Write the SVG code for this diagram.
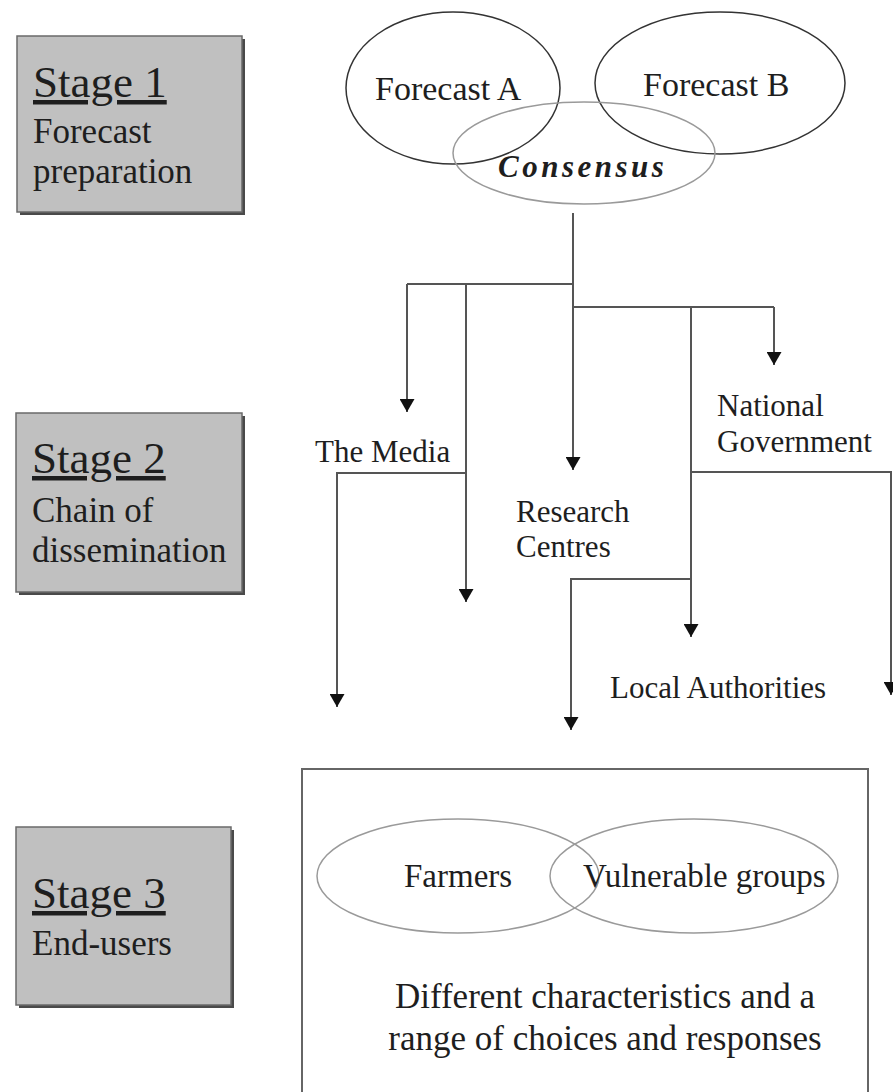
<svg xmlns="http://www.w3.org/2000/svg" width="893" height="1092" viewBox="0 0 893 1092">
<style>
  text { font-family: "Liberation Serif", "Times New Roman", serif; fill: #1e1e1e; }
  .stage { font-size: 45px; text-decoration: underline; }
  .sub { font-size: 35px; }
  .lbl { font-size: 31px; }
  .ell { font-size: 34px; }
  .shadow { fill: #4a4a4a; }
  .sbox { fill: #c0c0c0; stroke: #6a6a6a; stroke-width: 1.5; }
  .fc { fill: none; stroke: #333; stroke-width: 1.5; }
  .light { fill: none; stroke: #9a9a9a; stroke-width: 1.5; }
  .conn path { fill: none; stroke: #555; stroke-width: 2; }
  .arr path { marker-end: url(#ah); }
</style>
<defs>
  <marker id="ah" viewBox="0 0 13 15" refX="13" refY="7.5" markerWidth="13" markerHeight="15" markerUnits="userSpaceOnUse" orient="auto">
    <path d="M0,0 L13,7.5 L0,15 z" fill="#111"/>
  </marker>
</defs>
<rect width="893" height="1092" fill="#ffffff"/>

<g id="stage1">
  <rect class="shadow" x="20" y="39" width="225" height="176"/>
  <rect class="sbox" x="17" y="36" width="225" height="176"/>
  <text class="stage" x="33" y="97">Stage 1</text>
  <text class="sub" x="33" y="143">Forecast</text>
  <text class="sub" x="33" y="183">preparation</text>
</g>

<g id="stage2">
  <rect class="shadow" x="19" y="416" width="226" height="179"/>
  <rect class="sbox" x="16" y="413" width="226" height="179"/>
  <text class="stage" x="32" y="473">Stage 2</text>
  <text class="sub" x="32" y="522">Chain of</text>
  <text class="sub" x="32" y="562">dissemination</text>
</g>

<g id="stage3">
  <rect class="shadow" x="19" y="830" width="215" height="178"/>
  <rect class="sbox" x="16" y="827" width="215" height="178"/>
  <text class="stage" x="32" y="908">Stage 3</text>
  <text class="sub" x="32" y="955">End-users</text>
</g>

<g id="forecastA">
  <ellipse class="fc" cx="453" cy="88" rx="107" ry="76"/>
  <text class="ell" x="375" y="100">Forecast A</text>
</g>
<g id="forecastB">
  <ellipse class="fc" cx="720" cy="83" rx="125" ry="71"/>
  <text class="ell" x="643" y="96">Forecast B</text>
</g>
<g id="consensus">
  <ellipse class="light" cx="584" cy="153" rx="131" ry="51"/>
  <text x="498" y="177" font-size="31" font-weight="bold" font-style="italic" letter-spacing="3.5" fill="#000">Consensus</text>
</g>

<g id="media"><text class="lbl" x="315" y="462">The Media</text></g>
<g id="research">
  <text class="lbl" x="516" y="522">Research</text>
  <text class="lbl" x="516" y="557">Centres</text>
</g>
<g id="national">
  <text class="lbl" x="717" y="416">National</text>
  <text class="lbl" x="717" y="452">Government</text>
</g>
<g id="local"><text class="lbl" x="610" y="698">Local Authorities</text></g>

<g id="endusers">
  <rect x="302" y="769" width="566" height="340" fill="none" stroke="#666" stroke-width="2"/>
  <ellipse class="light" cx="458" cy="876" rx="141" ry="57"/>
  <ellipse class="light" cx="694" cy="876" rx="144" ry="57"/>
  <text x="404" y="887" font-size="33">Farmers</text>
  <text x="583" y="887" font-size="33">Vulnerable groups</text>
  <text x="605" y="1008" font-size="35" text-anchor="middle">Different characteristics and a</text>
  <text x="605" y="1050" font-size="35" text-anchor="middle">range of choices and responses</text>
</g>

<g id="connectors" class="conn">
  <path d="M573 213 V307"/>
  <path d="M407 284 H573"/>
  <path d="M573 307 H774"/>
  <g class="arr">
    <path d="M573 307 V470"/>
    <path d="M407 284 V412"/>
    <path d="M466 284 V602"/>
    <path d="M774 307 V365"/>
    <path d="M691 307 V637"/>
    <path d="M466 473 H337 V707"/>
    <path d="M690 579 H571 V730"/>
    <path d="M691 472 H891 V695"/>
  </g>
</g>
</svg>
